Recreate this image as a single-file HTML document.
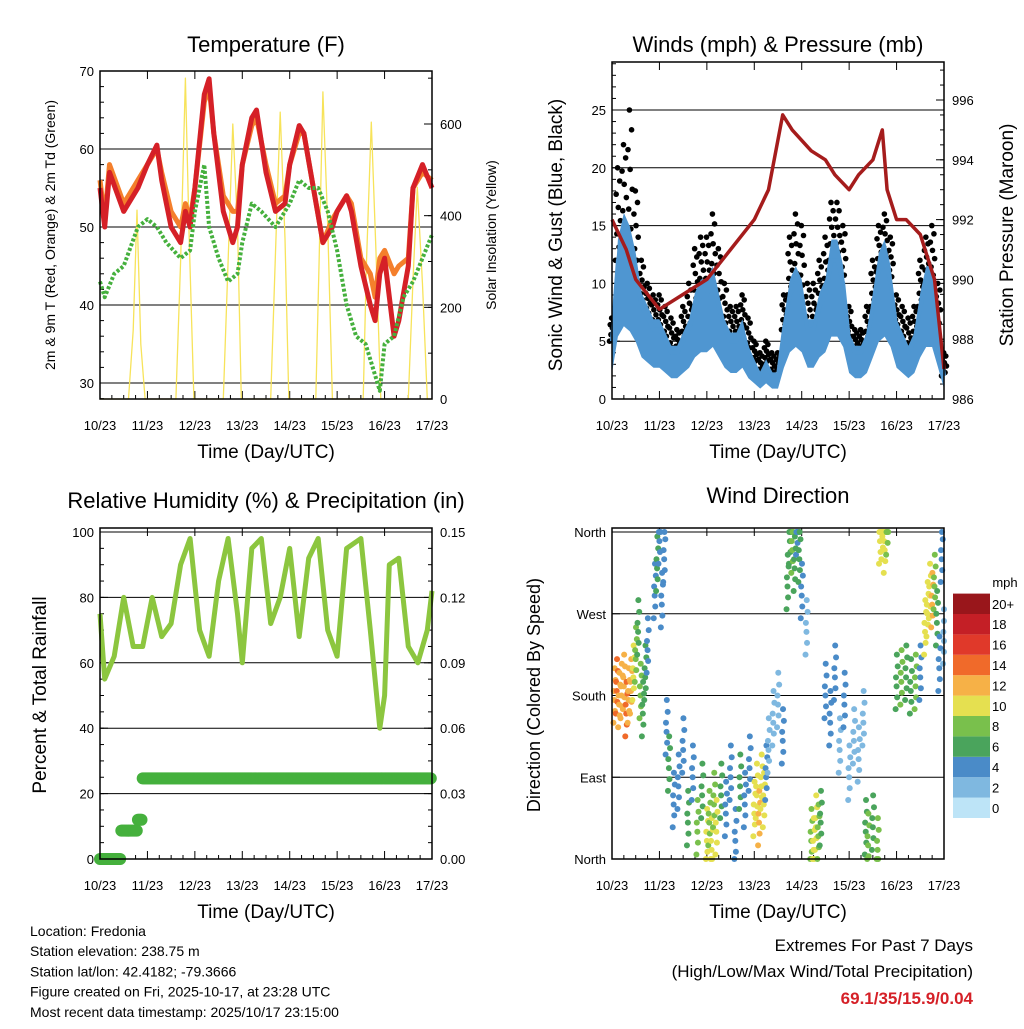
<!DOCTYPE html>
<html><head><meta charset="utf-8"><style>
body{margin:0;background:#fff}
svg text{font-family:"Liberation Sans",sans-serif;fill:#000}
</style></head><body>
<svg id="c" width="1024" height="1024" viewBox="0 0 1024 1024" xmlns="http://www.w3.org/2000/svg"></svg>
<script>
// ---------- DATA ----------
const dayLabels=["10/23","11/23","12/23","13/23","14/23","15/23","16/23","17/23"];
const tTimes=[0,0.1,0.2,0.5,0.8,1.0,1.2,1.3,1.5,1.7,1.8,1.9,2.0,2.2,2.3,2.4,2.6,2.8,2.9,3.0,3.2,3.3,3.5,3.7,3.9,4.0,4.2,4.3,4.5,4.7,4.9,5.0,5.2,5.3,5.5,5.7,5.8,5.9,6.0,6.2,6.3,6.5,6.6,6.8,7.0];
const t2m=[55,50,57,52,55,58,60.5,56,50,48,52,50,55,67,69,62,52,48,50,58,64,65,57,52,53,58,63,62,55,48,50,52,54,52,45,40,38,44,46,36,38,45,55,58,55];
const t9m=[56,51,58,53,56,58,60,57,52,50,53,51,55,66,68,62,54,52,52,58,63,64,58,53,54,58,62,62,55,48,51,52,54,53,46,44,41,46,47,44,45,46,55,57,56];
const tdTimes=[0,0.1,0.3,0.5,0.8,1.0,1.2,1.4,1.7,1.9,2.0,2.2,2.3,2.5,2.7,2.9,3.0,3.2,3.4,3.7,4.0,4.2,4.4,4.6,4.8,5.0,5.2,5.4,5.6,5.8,5.9,6.0,6.2,6.4,6.6,6.8,7.0];
const td2m=[43,41,44,45,50,51,50,48,46,47,52,58,50,46,43,44,48,53,52,50,53,56,55,55,52,47,40,36,35,31,29,35,36,41,43,46,49];
const solTimes=[0,0.6,0.7,0.78,0.86,0.95,1.6,1.7,1.8,1.88,1.98,2.6,2.7,2.8,2.9,2.98,3.6,3.7,3.8,3.9,3.98,4.55,4.62,4.7,4.8,4.9,5.55,5.62,5.72,5.82,5.92,6.5,6.6,6.69,6.8,6.9,7.0];
const solar=[0,0,150,412,120,0,0,300,700,350,0,0,300,600,380,0,0,320,626,350,0,0,300,670,380,0,0,300,604,320,0,0,260,462,250,0,0];
const wTimes=[0,0.125,0.25,0.375,0.5,0.625,0.75,0.875,1,1.125,1.25,1.375,1.5,1.625,1.75,1.875,2,2.125,2.25,2.375,2.5,2.625,2.75,2.875,3,3.125,3.25,3.375,3.5,3.625,3.75,3.875,4,4.125,4.25,4.375,4.5,4.625,4.75,4.875,5,5.125,5.25,5.375,5.5,5.625,5.75,5.875,6,6.125,6.25,6.375,6.5,6.625,6.75,6.875,7];
const wind=[5,12,14,13,11,8,7,6,6,5,4,4,5,6,8,9,9,10,8,6,5,5,6,4,3,2,3,2,2,6,9,10,9,6,6,8,9,12,12,10,5,4,4,5,8,11,12,10,6,5,4,5,8,10,10,6,2];
const gust=[7,20,22,25,18,12,10,9,9,8,7,6,8,10,13,14,14,16,13,10,8,8,9,7,5,4,5,4,4,9,14,16,15,10,10,12,14,17,17,15,8,6,6,8,12,15,16,14,9,8,7,8,12,14,15,10,4];
const pTimes=[0,0.3,0.5,1,1.5,2,2.5,3,3.3,3.6,3.8,4.2,4.5,4.7,5,5.2,5.5,5.7,5.8,6,6.2,6.5,6.8,7];
const pressure=[992,991,990,989,989.5,990,991,992,993,995.5,995,994.3,994,993.5,993,993.5,994,995,993,992,992,991.5,990,987];
const rhTimes=[0,0.1,0.3,0.5,0.7,0.9,1.1,1.3,1.5,1.7,1.9,2.1,2.3,2.5,2.7,2.9,3.0,3.2,3.4,3.6,3.8,4.0,4.2,4.4,4.6,4.8,5.0,5.2,5.5,5.7,5.9,6.0,6.1,6.3,6.5,6.7,6.9,7.0];
const rh=[75,55,62,80,65,65,80,68,72,90,98,70,62,85,98,75,60,95,98,72,80,95,68,92,98,70,62,95,98,70,40,50,90,92,65,60,70,82];
const prTimes=[0,0.1,0.2,0.3,0.4,0.45,0.55,0.65,0.75,0.8,0.85,0.9,1.0,7.0];
const precip=[0,0,0,0,0,0.013,0.013,0.013,0.013,0.018,0.018,0.037,0.037,0.037];
const dirTimes=[0.05,0.1,0.15,0.2,0.25,0.3,0.35,0.4,0.45,0.5,0.55,0.6,0.65,0.7,0.75,0.9,0.95,1.0,1.05,1.1,1.15,1.2,1.3,1.4,1.5,1.6,1.7,1.8,1.9,2.0,2.05,2.1,2.15,2.2,2.3,2.4,2.5,2.6,2.7,2.8,2.9,3.0,3.05,3.1,3.15,3.2,3.25,3.3,3.4,3.5,3.6,3.7,3.75,3.8,3.85,3.9,3.95,4.0,4.1,4.2,4.25,4.3,4.35,4.4,4.5,4.6,4.7,4.8,4.9,5.0,5.1,5.2,5.3,5.35,5.4,5.5,5.6,5.65,5.7,5.75,5.8,6.0,6.1,6.2,6.3,6.4,6.5,6.6,6.65,6.7,6.75,6.8,6.85,6.9,6.95,7.0];
const dirVals=[175,185,170,180,190,160,175,185,200,220,250,180,160,200,230,290,320,350,280,330,140,100,60,80,120,40,90,30,70,20,40,10,60,30,70,50,90,20,80,60,100,50,70,40,80,60,90,120,150,170,130,300,350,340,320,360,330,290,250,20,10,35,25,40,180,150,200,120,170,90,130,110,150,30,15,35,10,350,355,340,360,190,195,200,185,190,200,250,270,290,280,300,260,210,330,240];
const dirSpeeds=[12,13,12,11,12,13,12,11,10,8,6,7,6,5,4,4,5,4,3,4,4,5,4,3,4,6,4,8,6,9,8,10,7,9,5,4,4,3,5,4,3,9,10,11,10,9,4,2,1,2,3,6,5,7,6,4,5,3,2,8,9,10,7,6,3,4,3,2,4,1,2,1,2,6,7,5,8,9,10,9,8,6,7,5,6,7,4,9,10,9,11,8,5,4,3,2];
const cbLabels=["0","2","4","6","8","10","12","14","16","18","20+"];
const cbColors=["#bde4f7","#7fb8e0","#4a8bc8","#4aa45c","#79c04c","#e5e050","#f6b147","#f06a2a","#e0392a","#c41f26","#99161b"];

// ---------- HELPERS ----------
const svg=document.getElementById('c');const NS='http://www.w3.org/2000/svg';
function el(tag,attrs,parent){const e=document.createElementNS(NS,tag);for(const k in attrs)e.setAttribute(k,attrs[k]);(parent||svg).appendChild(e);return e;}
function txt(s,x,y,size,anchor,parent,rot){const t=el('text',{x:x,y:y,'font-size':size,'text-anchor':anchor||'middle'},parent);if(rot)t.setAttribute('transform','rotate(-90 '+x+' '+y+')');t.textContent=s;return t;}
function lin(d0,d1,r0,r1){return v=>r0+(v-d0)/(d1-d0)*(r1-r0);}
function polyline(xs,ys,fx,fy,stroke,w,parent){let p=xs.map((x,i)=>fx(x).toFixed(1)+','+fy(ys[i]).toFixed(1)).join(' ');return el('polyline',{points:p,fill:'none',stroke:stroke,'stroke-width':w,'stroke-linejoin':'round'},parent);}
function speedColor(s){let i=Math.min(10,Math.max(0,Math.round(s/2)));return cbColors[i];}

function panel(name,x0,y0,x1,y1,title,titleY){
  const g=el('g',{});
  const t=txt(title,(x0+x1)/2,titleY,22,'middle',g);
  const fx=lin(0,7,x0,x1);
  dayLabels.forEach((l,i)=>{const x=fx(i);el('line',{x1:x,x2:x,y1:y1,y2:y1-8,stroke:'#000'},g);el('line',{x1:x,x2:x,y1:y0,y2:y0+8,stroke:'#000'},g);txt(l,x,y1+31,13,'middle',g);
    if(i<7)for(let k=1;k<4;k++){const xm=fx(i+k/4);el('line',{x1:xm,x2:xm,y1:y1,y2:y1-4,stroke:'#000'},g);}});
  const xt=txt('Time (Day/UTC)',(x0+x1)/2,y1+59,19,'middle',g);
  return {g,fx};
}
function frame(g,x0,y0,x1,y1){el('rect',{x:x0,y:y0,width:x1-x0,height:y1-y0,fill:'none',stroke:'#000','stroke-width':1.5},g);}
function yTicks(g,vals,labels,fy,x,side,grid,x0,x1,minorStep,lo,hi){
  vals.forEach((v,i)=>{const y=fy(v);if(grid)el('line',{x1:x0,x2:x1,y1:y,y2:y,stroke:'#000','stroke-width':1},g);
    el('line',{x1:x,x2:x+(side<0?8:-8),y1:y,y2:y,stroke:'#000'},g);txt(labels[i],side<0?x-6:x+8,y+5,13,side<0?'end':'start',g);});
  if(minorStep)for(let v=lo;v<=hi+1e-9;v+=minorStep){const y=fy(v);el('line',{x1:x,x2:x+(side<0?4:-4),y1:y,y2:y,stroke:'#000'},g);}
}

// ---------- PANEL 1: TEMPERATURE ----------
(function(){const X0=100,Y0=71,X1=432,Y1=399;const P=panel('temperature-panel',X0,Y0,X1,Y1,'Temperature (F)',52);const g=P.g,fx=P.fx;
const fy=lin(30,70,383,71),fs=lin(0,600,399,124);
yTicks(g,[30,40,50,60,70],["30","40","50","60","70"],fy,X0,-1,true,X0,X1,2,28,70);
yTicks(g,[0,200,400,600],["0","200","400","600"],fs,X1,1,false,X0,X1,100,0,700);
let s=polyline(solTimes,solar,fx,fs,'#f7e35a',1.3,g);
let o=polyline(tTimes,t9m,fx,fy,'#f47f2c',5,g);
let r=polyline(tTimes,t2m,fx,fy,'#d52027',5,g);
let d=polyline(tdTimes,td2m,fx,fy,'#45b03d',4,g);d.setAttribute('stroke-dasharray','3 2');
frame(g,X0,Y0,X1,Y1);
let a=txt('2m & 9m T (Red, Orange) & 2m Td (Green)',55,235,14,'middle',g,true);
let b=txt('Solar Insolation (Yellow)',496,235,14,'middle',g,true);
})();

// ---------- PANEL 2: WINDS ----------
(function(){const X0=612,Y0=62,X1=944,Y1=399;const P=panel('winds-panel',X0,Y0,X1,Y1,'Winds (mph) & Pressure (mb)',52);const g=P.g,fx=P.fx;
const fy=lin(0,25,399,110),fp=lin(986,996,399,100);
yTicks(g,[0,5,10,15,20,25],["0","5","10","15","20","25"],fy,X0,-1,true,X0,X1,1,0,29);
yTicks(g,[986,988,990,992,994,996],["986","988","990","992","994","996"],fp,X1,1,false,X0,X1,0.5,986,997);
gust.forEach((v,i)=>{const lo=wind[i];for(let k=0;k<8;k++){const f=((k*37)%8)/7;const c=el('circle',{cx:fx(wTimes[i]+(k-3.5)*0.015),cy:fy(lo+(v-lo)*f),r:2.8,fill:'#000'},g);}});
// wind band: lulls to peaks
let up=wTimes.map((t,i)=>fx(t).toFixed(1)+','+fy(wind[i]*1.15).toFixed(1));
let dn=wTimes.map((t,i)=>fx(t).toFixed(1)+','+fy(wind[i]*0.45).toFixed(1)).reverse();
let band=el('polygon',{points:up.concat(dn).join(' '),fill:'#4f96d1'},g);
let w=polyline(wTimes,wind,fx,fy,'#4f96d1',4,g);
let p=polyline(pTimes,pressure,fx,fp,'#a51c1c',3.5,g);
frame(g,X0,Y0,X1,Y1);
let a=txt('Sonic Wind & Gust (Blue, Black)',562,235,19,'middle',g,true);
let b=txt('Station Pressure (Maroon)',1013,235,19,'middle',g,true);
})();

// ---------- PANEL 3: RH & PRECIP ----------
(function(){const X0=100,Y0=528,X1=432,Y1=859;const P=panel('humidity-panel',X0,Y0,X1,Y1,'Relative Humidity (%) & Precipitation (in)',508);const g=P.g,fx=P.fx;
const fy=lin(0,100,859,532),fr=lin(0,0.15,859,532);
yTicks(g,[0,20,40,60,80,100],["0","20","40","60","80","100"],fy,X0,-1,true,X0,X1,5,0,100);
yTicks(g,[0,0.03,0.06,0.09,0.12,0.15],["0.00","0.03","0.06","0.09","0.12","0.15"],fr,X1,1,false,X0,X1,0.0075,0,0.15);
let r=polyline(rhTimes,rh,fx,fy,'#8cc63f',5,g);
for(let i=0;i<prTimes.length-1;i++){const t0=prTimes[i],t1=prTimes[i+1];const n=Math.max(1,Math.round((t1-t0)*40));for(let k=0;k<n;k++){const c=el('circle',{cx:fx(t0+(t1-t0)*k/n),cy:fr(precip[i]),r:6,fill:'#45b03d'},g);}}
frame(g,X0,Y0,X1,Y1);
let a=txt('Percent & Total Rainfall',46,695,19,'middle',g,true);
})();

// ---------- PANEL 4: WIND DIRECTION ----------
(function(){const X0=612,Y0=528,X1=944,Y1=859;const P=panel('wind-direction-panel',X0,Y0,X1,Y1,'Wind Direction',503);const g=P.g,fx=P.fx;
const fy=lin(0,360,859,532);
yTicks(g,[0,90,180,270,360],["North","East","South","West","North"],fy,X0,-1,true,X0,X1,0,0,0);
const offs=[[0,0],[0.012,-12],[-0.012,10],[0.024,22],[-0.02,-25],[0.006,35]];
dirVals.forEach((v,i)=>{offs.forEach(o=>{let d=v+o[1];d=Math.max(0,Math.min(360,d));const c=el('circle',{cx:fx(Math.min(7,dirTimes[i]+o[0])),cy:fy(d),r:3,fill:speedColor(dirSpeeds[i])},g);});});
frame(g,X0,Y0,X1,Y1);
let a=txt('Direction (Colored By Speed)',540,695,18,'middle',g,true);
const cb=el('g',{},svg);
const bh=20.4;cbColors.forEach((c,i)=>{const y=818-(i+1)*bh;el('rect',{x:953,y:y,width:37,height:bh,fill:c},cb);txt(cbLabels[i],992,y+bh/2+5,13,'start',cb);});
txt('mph',1005,587,13,'middle',cb);
})();

// ---------- FOOTER ----------
const info=["Location: Fredonia","Station elevation: 238.75 m","Station lat/lon: 42.4182; -79.3666","Figure created on Fri, 2025-10-17, at 23:28 UTC","Most recent data timestamp: 2025/10/17 23:15:00"];
info.forEach((s,i)=>{const t=txt(s,30,936+i*20.2,14,'start');});
let e1=txt('Extremes For Past 7 Days',973,951,17,'end');
let e2=txt('(High/Low/Max Wind/Total Precipitation)',973,977,17,'end');
let e3=txt('69.1/35/15.9/0.04',973,1004,17,'end');e3.setAttribute('font-weight','bold');e3.style.fill='#d52027';
</script>
</body></html>
